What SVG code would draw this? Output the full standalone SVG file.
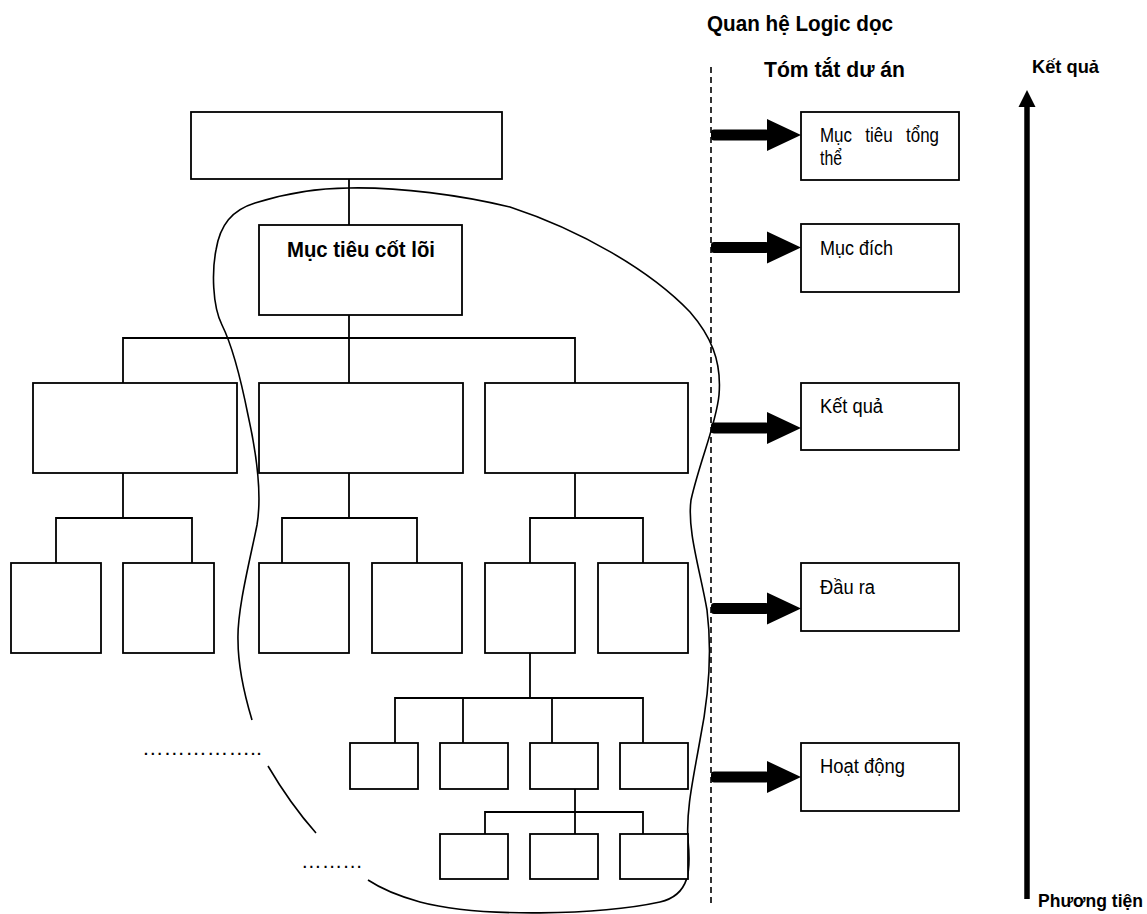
<svg xmlns="http://www.w3.org/2000/svg" width="1147" height="914" viewBox="0 0 1147 914">
<style>
.box{fill:#fff;stroke:#000;stroke-width:1.8}
.ln{fill:none;stroke:#000;stroke-width:1.8}
.curve{fill:none;stroke:#000;stroke-width:1.6}
.t{font-family:"Liberation Sans",Arial,sans-serif;fill:#000}
.b{font-weight:bold}
.lbl{font-family:"Liberation Sans",Arial,sans-serif;font-size:19.5px;fill:#000}
.arr{fill:#000}
</style>
<defs>
<g id="harrow">
<rect x="0" y="-5.5" width="58" height="11" rx="3"/>
<polygon points="56,-16 90,0 56,16"/>
</g>
</defs>
<rect width="1147" height="914" fill="#fff"/>

<g id="connectors">
<line class="ln" x1="349" y1="179" x2="349" y2="225"/>
<line class="ln" x1="349" y1="315" x2="349" y2="338"/>
<polyline class="ln" points="123,383 123,338 575,338 575,383"/>
<line class="ln" x1="349" y1="338" x2="349" y2="383"/>
<polyline class="ln" points="123,473 123,518"/>
<polyline class="ln" points="56,563 56,518 192,518 192,563"/>
<polyline class="ln" points="349,473 349,518"/>
<polyline class="ln" points="282,563 282,518 417,518 417,563"/>
<polyline class="ln" points="575,473 575,518"/>
<polyline class="ln" points="530,563 530,518 643,518 643,563"/>
<line class="ln" x1="530" y1="653" x2="530" y2="698"/>
<polyline class="ln" points="395,743 395,698 643,698 643,743"/>
<line class="ln" x1="463" y1="698" x2="463" y2="743"/>
<line class="ln" x1="552" y1="698" x2="552" y2="743"/>
<line class="ln" x1="575" y1="789" x2="575" y2="834"/>
<polyline class="ln" points="485,834 485,812 643,812 643,834"/>
<line x1="711" y1="67" x2="711" y2="905" stroke="#000" stroke-width="1.6" stroke-dasharray="6 4"/>
<g class="arr">
<use href="#harrow" x="711" y="135"/>
<use href="#harrow" x="711" y="247.5"/>
<use href="#harrow" x="711" y="428"/>
<use href="#harrow" x="711" y="608.5"/>
<use href="#harrow" x="711" y="777"/>
</g>
<g id="vertical-arrow">
<line x1="1027" y1="105" x2="1027" y2="899" stroke="#000" stroke-width="5.5"/>
<polygon class="arr" points="1027,90 1035.5,107 1018.5,107"/>
</g>
</g>

<g id="boundary">
<path class="curve" d="M252,720 C246,700 238,670 238,640 C237,610 250,560 257,525 C262,495 258,460 248,415 C240,375 232,345 222,325 C212,305 212,270 216,250 C220,225 232,210 255,203 C290,192 320,188 349,188 C400,187 460,195 510,207 C580,230 650,270 690,312 C710,335 722,360 719,395 C716,425 700,460 691,500 C687,530 700,570 707,610 C712,650 710,690 700,740 C693,780 686,810 688,840 C691,870 690,895 660,902 C600,915 480,918 420,902 C395,895 380,888 368,880"/>
<path class="curve" d="M268,766 C285,795 300,815 316,833"/>
</g>

<g id="n-top"><rect class="box" x="191" y="112" width="311" height="67"/></g>
<g id="n-core"><rect class="box" x="259" y="225" width="203" height="90"/>
<text class="t b" x="287" y="257" font-size="22" textLength="148" lengthAdjust="spacingAndGlyphs">Mục tiêu cốt lõi</text></g>

<g id="n-l2a"><rect class="box" x="33" y="383" width="204" height="90"/></g>
<g id="n-l2b"><rect class="box" x="259" y="383" width="204" height="90"/></g>
<g id="n-l2c"><rect class="box" x="485" y="383" width="203" height="90"/></g>

<g id="n-l3a"><rect class="box" x="11" y="563" width="90" height="90"/></g>
<g id="n-l3b"><rect class="box" x="123" y="563" width="91" height="90"/></g>
<g id="n-l3c"><rect class="box" x="259" y="563" width="90" height="90"/></g>
<g id="n-l3d"><rect class="box" x="372" y="563" width="90" height="90"/></g>
<g id="n-l3e"><rect class="box" x="485" y="563" width="90" height="90"/></g>
<g id="n-l3f"><rect class="box" x="598" y="563" width="90" height="90"/></g>

<g id="n-l4a"><rect class="box" x="350" y="743" width="68" height="46"/></g>
<g id="n-l4b"><rect class="box" x="440" y="743" width="68" height="46"/></g>
<g id="n-l4c"><rect class="box" x="530" y="743" width="68" height="46"/></g>
<g id="n-l4d"><rect class="box" x="620" y="743" width="68" height="46"/></g>

<g id="n-l5a"><rect class="box" x="440" y="834" width="68" height="45"/></g>
<g id="n-l5b"><rect class="box" x="530" y="834" width="68" height="45"/></g>
<g id="n-l5c"><rect class="box" x="620" y="834" width="68" height="45"/></g>

<g id="dots1"><text class="t" x="142" y="755" font-size="20" textLength="120" lengthAdjust="spacingAndGlyphs">……………..</text></g>
<g id="dots2"><text class="t" x="301" y="868" font-size="20" textLength="62" lengthAdjust="spacingAndGlyphs">………</text></g>

<g id="title1"><text class="t b" x="707" y="31" font-size="22" textLength="186" lengthAdjust="spacingAndGlyphs">Quan hệ Logic dọc</text></g>
<g id="title2"><text class="t b" x="764" y="77" font-size="22.5" textLength="141" lengthAdjust="spacingAndGlyphs">Tóm tắt dư án</text></g>
<g id="label-top"><text class="t b" x="1032" y="73" font-size="18.5" textLength="67" lengthAdjust="spacingAndGlyphs">Kết quả</text></g>
<g id="label-bottom"><text class="t b" x="1038" y="907" font-size="18.5" textLength="105" lengthAdjust="spacingAndGlyphs">Phương tiện</text></g>

<g id="r-goal"><rect class="box" x="801" y="112" width="158" height="68"/>
<text class="lbl" x="820" y="142" word-spacing="10" textLength="119" lengthAdjust="spacingAndGlyphs">Mục tiêu tổng</text>
<text class="lbl" x="820" y="165" textLength="22" lengthAdjust="spacingAndGlyphs">thể</text></g>
<g id="r-purpose"><rect class="box" x="801" y="224" width="158" height="68"/>
<text class="lbl" x="820" y="255" textLength="73" lengthAdjust="spacingAndGlyphs">Mục đích</text></g>
<g id="r-result"><rect class="box" x="801" y="383" width="158" height="67"/>
<text class="lbl" x="820" y="413" textLength="63" lengthAdjust="spacingAndGlyphs">Kết quả</text></g>
<g id="r-output"><rect class="box" x="801" y="563" width="158" height="68"/>
<text class="lbl" x="820" y="594" textLength="55" lengthAdjust="spacingAndGlyphs">Đầu ra</text></g>
<g id="r-activity"><rect class="box" x="801" y="743" width="158" height="68"/>
<text class="lbl" x="820" y="773" textLength="85" lengthAdjust="spacingAndGlyphs">Hoạt động</text></g>
</svg>
